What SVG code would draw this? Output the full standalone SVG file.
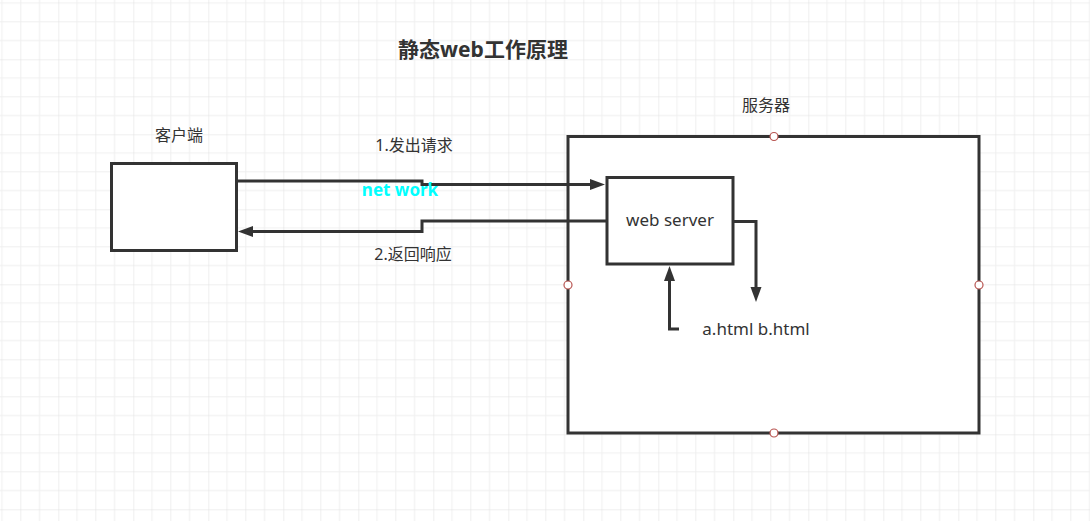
<svg xmlns="http://www.w3.org/2000/svg" width="1090" height="521" viewBox="0 0 1090 521">
<style>
.box{fill:#fff;stroke:#333;stroke-width:3}
.edge{fill:none;stroke:#333;stroke-width:3}
.txt{font-family:"Noto Sans","Noto Sans CJK SC",sans-serif;font-size:16px;fill:#333;text-anchor:middle}
.pt{fill:#fff;stroke:#b85450;stroke-width:1.2}
</style>
<defs>
<pattern id="grid" patternUnits="userSpaceOnUse" x="-16.7" y="-15.7" width="75" height="75">
<path d="M18.75 0V75M37.5 0V75M56.25 0V75M0 18.75H75M0 37.5H75M0 56.25H75" stroke="#efefef" stroke-width="1" fill="none"/>
<path d="M0 0V75M0 0H75" stroke="#e0e0e0" stroke-width="1" fill="none"/>
</pattern>
<marker id="arr" markerUnits="userSpaceOnUse" markerWidth="16" markerHeight="12" refX="2" refY="5.5" orient="auto" viewBox="0 0 16 12">
<path d="M0 0L15 5.5L0 11z" fill="#333"/>
</marker>
</defs>
<rect width="1090" height="521" fill="#fff"/>
<rect width="1090" height="521" fill="url(#grid)"/>
<text x="483" y="57" class="txt" style="font-size:21px;font-weight:bold">静态web工作原理</text>
<g id="client">
<rect class="box" x="111.5" y="163.5" width="125" height="87"/>
<text x="179" y="141" class="txt">客户端</text>
</g>
<g id="server">
<rect class="box" x="568" y="136.5" width="411" height="296.5"/>
<text x="766" y="111" class="txt">服务器</text>
<circle class="pt" cx="774" cy="136.5" r="4"/>
<circle class="pt" cx="568" cy="285" r="4"/>
<circle class="pt" cx="979" cy="285" r="4"/>
<circle class="pt" cx="774" cy="433" r="4"/>
</g>
<g id="webserver">
<rect class="box" x="607" y="177.5" width="126" height="86.5"/>
<text x="670" y="226" class="txt" style="font-size:17px">web server</text>
</g>
<g id="files">
<text x="756" y="335" class="txt" style="font-size:17px">a.html b.html</text>
</g>
<g id="connectors">
<polyline class="edge" points="237,181 422,181 422,184.5 592,184.5" marker-end="url(#arr)"/>
<polyline class="edge" points="607,221 422,221 422,231.5 251,231.5" marker-end="url(#arr)"/>
<polyline class="edge" points="733,221.5 756,221.5 756,289" marker-end="url(#arr)"/>
<polyline class="edge" points="679,329 669.5,329 669.5,279" marker-end="url(#arr)"/>
<text x="414" y="151" class="txt">1.发出请求</text>
<text x="400" y="196" class="txt" style="fill:#00ffff;font-weight:bold;font-size:17px">net work</text>
<text x="413" y="260" class="txt">2.返回响应</text>
</g>
</svg>
